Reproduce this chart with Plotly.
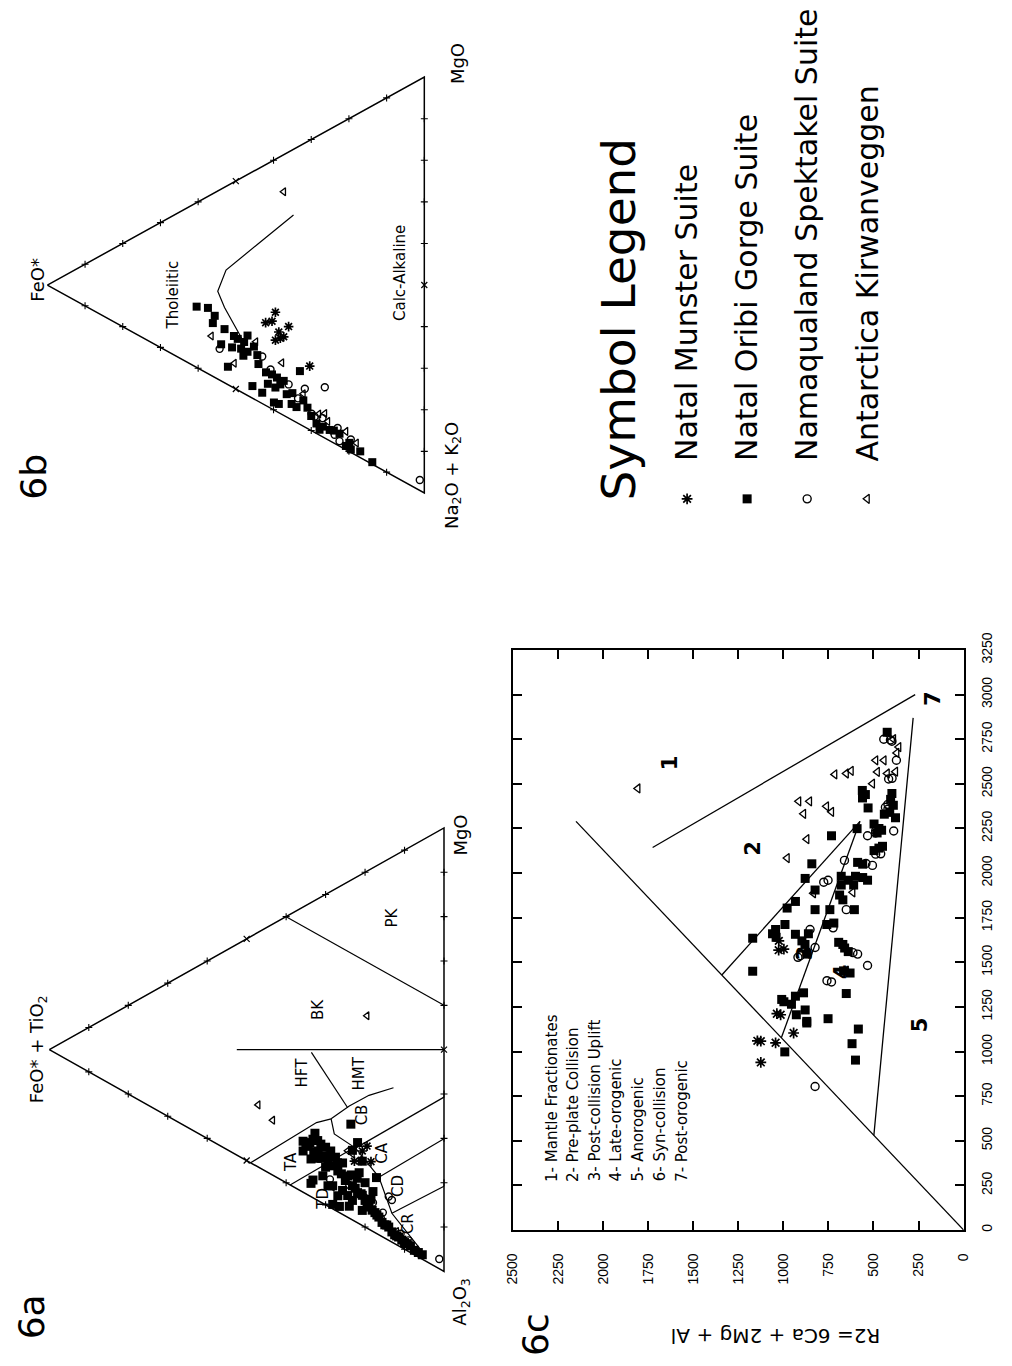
import plotly.graph_objects as go

W, H = 1012, 1366
FONT = "Liberation Sans"
TFONT = "DejaVu Sans"

# ================= 6a : (FeO*+TiO2) - Al2O3 - MgO =================
a_ast_fe = [20.7, 19.5, 22.7, 21.0, 18.5]
a_ast_al = [62.5, 62.0, 63.8, 64.5, 66.0]
a_ast_mg = [16.8, 18.5, 13.5, 14.5, 15.5]

a_sq_fe = [35.7, 34.4, 33.2, 31.9, 35.7, 30.7, 33.7, 31.2, 29.4, 32.7, 28.2, 26.9, 25.7, 24.4, 28.7,
           23.2, 21.9, 20.7, 19.5, 18.2, 17.0, 15.7, 14.5, 13.2, 12.0, 10.7, 9.5, 7.5,
           33.7, 33.2, 28.2, 26.5, 24.0, 30.7, 28.2, 25.7, 23.2, 24.4, 20.7, 29.4, 26.9,
           23.6, 21.9, 23.2, 17.1, 20.7,
           34.0, 32.0, 30.0, 29.0, 27.5, 31.0, 33.0, 35.0, 26.0, 27.0, 30.0, 32.0,
           22.5, 21.0, 20.0, 19.0, 18.5, 17.5, 16.5, 15.0, 14.0, 12.5, 11.5, 10.0, 8.5, 6.5, 5.5,
           22.0, 20.0, 18.0, 25.0, 23.5, 21.5]
a_sq_al = [52.8, 54.6, 53.6, 56.9, 55.0, 58.6, 57.8, 55.7, 60.4, 52.5, 62.1, 63.9, 62.7, 66.3, 58.5,
           69.1, 71.3, 72.5, 75.3, 77.1, 78.8, 81.1, 82.3, 84.5, 86.0, 87.6, 89.0, 91.5,
           63.3, 62.8, 70.8, 72.1, 73.3, 63.1, 66.6, 68.9, 72.4, 70.7, 75.9, 66.0, 69.5,
           55.0, 60.0, 61.1, 70.3, 64.8,
           54.0, 54.5, 57.0, 59.5, 60.5, 59.0, 56.5, 53.5, 65.0, 62.0, 61.5, 58.5,
           70.0, 72.0, 74.0, 76.0, 74.5, 78.0, 79.5, 82.0, 83.0, 85.5, 86.5, 88.5, 90.0, 92.5, 93.5,
           68.0, 70.0, 73.0, 67.0, 66.5, 67.0]
a_sq_mg = [11.5, 11.0, 13.2, 11.2, 9.3, 10.7, 8.5, 13.1, 10.2, 14.8, 9.7, 9.2, 11.6, 9.3, 12.8,
           7.7, 6.8, 6.8, 5.2, 4.7, 4.2, 3.2, 3.2, 2.3, 2.0, 1.7, 1.5, 1.0,
           3.0, 4.0, 1.0, 1.4, 2.7, 6.2, 5.2, 5.4, 4.4, 4.9, 3.4, 4.6, 3.6,
           21.4, 18.1, 15.7, 12.6, 14.5,
           12.0, 13.5, 13.0, 11.5, 12.0, 10.0, 10.5, 11.5, 9.0, 11.0, 8.5, 9.5,
           7.5, 7.0, 6.0, 5.0, 7.0, 4.5, 4.0, 3.0, 3.0, 2.0, 2.0, 1.5, 1.5, 1.0, 1.0,
           10.0, 10.0, 9.0, 8.0, 10.0, 11.5]

a_ci_fe = [14.0, 13.2, 1.2, 28.9, 16.0, 11.0, 18.0, 15.5, 9.0, 24.0]
a_ci_al = [76.1, 77.3, 96.6, 64.8, 80.0, 86.0, 75.5, 79.0, 88.5, 68.5]
a_ci_mg = [9.9, 9.5, 2.2, 6.3, 4.0, 3.0, 6.5, 5.5, 2.5, 7.5]

a_tr_fe = [47.1, 43.4, 19.5, 28.3, 24.4, 23.2, 20.0, 12.0, 26.5]
a_tr_al = [38.9, 44.2, 32.6, 66.8, 60.6, 61.9, 73.5, 85.0, 64.0]
a_tr_mg = [14.0, 12.4, 47.9, 4.9, 15.0, 14.9, 6.5, 3.0, 9.5]

# field boundaries of 6a (each: fe, al, mg)
a_fields = [
    ([40, 0], [0, 40], [60, 60]),                       # BK / PK
    ([52.5, 0], [23.75, 50], [23.75, 50]),              # HFT / BK
    ([33.6, 24.4], [33.8, 50.9], [32.6, 24.7]),         # HFT / HMT
    ([49, 32.3, 28.6], [51, 50.3, 51.3], [0, 17.4, 20.1]),            # TA top
    ([28.6, 24, 19, 12.8], [51.3, 50.7, 50.8, 52.2], [20.1, 25.3, 30.2, 35]),  # CB top
    ([28.6, 27.8, 22.4, 16.5, 13.2, 6], [51.3, 55.1, 61, 70.5, 80.3, 92],
     [20.1, 17.1, 16.6, 13, 6.5, 2]),                  # tholeiitic / calc-alkaline
    ([39, 22.7], [61, 60.7], [0, 16.6]),                # TA / TD
    ([22.4, 0], [61, 60.7], [16.6, 39.3]),              # CB / CA
    ([16.5, 0], [70.5, 70.1], [13, 29.9]),              # CA / CD
    ([13.2, 0], [80.3, 80.8], [6.5, 19.2]),             # CD / CR
]
a_field_names = ["TA", "TD", "HFT", "HMT", "BK", "PK", "CB", "CA", "CD", "CR"]
a_field_fe = [38.6, 30.7, 36.1, 21.5, 31.9, 13.2, 20.7, 15.7, 11.5, 9.1]
a_field_al = [56.1, 68.3, 37.2, 44.6, 25.1, 13.6, 54.4, 65.6, 75.1, 84.8]
a_field_mg = [5.3, 1.0, 26.7, 33.9, 43.0, 73.2, 24.9, 18.7, 13.4, 6.1]

# ================= 6b : FeO* - (Na2O+K2O) - MgO =================
b_sq_fe = [57.4, 55.6, 53.0, 49.5, 47.8, 48.6, 46.9, 52.1, 45.6, 43.0, 40.4, 39.1, 38.2, 39.5, 37.3,
           39.9, 38.6, 36.5, 35.2, 33.9, 32.1, 33.0, 28.6, 26.9, 25.1, 27.8, 20.8, 19.5, 19.9, 13.8,
           60.4, 56.1, 53.9, 46.9, 45.2, 44.3,
           50.5, 51.0, 48.0, 44.0, 42.0, 41.5, 35.0, 31.0, 30.0, 24.0, 22.5, 17.0]
b_sq_alk = [26.8, 29.6, 34.1, 38.2, 39.8, 41.0, 42.6, 43.6, 51.5, 54.4, 51.3, 52.7, 54.8, 54.9, 54.4,
            58.3, 59.3, 58.0, 61.0, 62.4, 61.7, 54.2, 69.0, 70.6, 72.3, 70.9, 78.3, 79.8, 78.0, 85.7,
            25.0, 31.1, 37.3, 38.7, 42.2, 44.7,
            37.0, 39.5, 43.0, 47.0, 50.0, 53.0, 58.5, 64.0, 66.5, 73.0, 74.5, 81.5]
b_sq_mg = [15.8, 14.8, 12.9, 12.3, 12.4, 10.4, 10.5, 4.3, 2.9, 2.6, 8.3, 8.2, 7.0, 5.6, 8.3,
           1.8, 2.1, 5.5, 3.8, 3.7, 6.2, 12.8, 2.4, 2.5, 2.6, 1.3, 0.9, 0.7, 2.1, 0.5,
           14.6, 12.8, 8.8, 14.4, 12.6, 11.0,
           12.5, 9.5, 9.0, 9.0, 8.0, 5.5, 6.5, 5.0, 3.5, 3.0, 3.0, 1.5]

b_ast_fe = [39.5, 42.1, 40.4, 36.0, 38.6, 37.3, 39.5, 38.2, 30.4]
b_ast_alk = [36.8, 38.0, 38.5, 42.0, 42.0, 43.8, 43.5, 43.7, 54.3]
b_ast_mg = [23.7, 19.9, 21.1, 22.0, 19.4, 18.9, 17.0, 18.1, 15.3]

b_ci_fe = [54.3, 43.0, 40.8, 31.7, 26.4, 36.0, 29.9, 23.0, 22.5, 19.5, 1.2, 29.1, 23.8, 33.5, 27.0]
b_ci_alk = [38.2, 45.7, 49.9, 59.1, 61.4, 55.9, 66.0, 72.9, 76.3, 77.4, 96.3, 67.1, 74.1, 60.5, 68.5]
b_ci_mg = [7.5, 11.3, 9.3, 9.2, 12.2, 8.1, 4.1, 4.1, 1.2, 3.1, 2.5, 3.8, 2.1, 6.0, 4.5]

b_tr_fe = [50.4, 44.7, 37.8, 26.4, 20.8, 32.1, 37.3, 56.5, 25.6, 28.0, 18.0]
b_tr_alk = [43.6, 41.3, 49.8, 67.7, 74.8, 60.1, 8.9, 34.0, 70.0, 67.0, 79.0]
b_tr_mg = [6.0, 14.0, 12.4, 5.9, 4.4, 7.8, 53.8, 9.5, 4.4, 5.0, 3.0]

b_curve_fe = [48.2, 53.0, 54.8, 52.6, 44.3, 34.7]
b_curve_alk = [39.1, 28.9, 24.1, 20.1, 18.1, 15.8]
b_curve_mg = [12.7, 18.1, 21.1, 27.3, 37.6, 49.5]

b_field_names = ["Tholeiitic", "Calc-Alkaline"]
b_field_fe = [66.8, 6.5]
b_field_alk = [19.0, 43.9]
b_field_mg = [14.2, 49.6]

# ================= 6c : R1 - R2 =================
c_sq_r1 = [2789, 2421, 2365, 2310, 2209, 2249, 2275, 2250, 2225, 2240, 2052, 1970, 1905, 1841,
           1804, 1635, 1450, 1684, 1660, 1640, 1795, 1795, 1657, 1620, 1660, 1600, 1546,
           1982, 1960, 1982, 1975, 1960, 1933, 1933, 2060, 2050, 2126, 2140, 2150, 1795,
           1877, 1850, 1712, 1720, 1612, 1580, 1560, 1600, 1452, 1440, 2463, 2440, 2446,
           2413, 2380, 2340, 2330, 1279, 1310, 1329, 1233, 1206, 1160, 1169, 1184, 1325,
           1126, 1044, 952, 998, 1292, 1265, 1712]
c_sq_r2 = [424, 561, 530, 378, 733, 591, 497, 470, 480, 455, 842, 879, 824, 933,
           979, 1170, 1170, 1043, 1060, 1040, 824, 742, 933, 897, 861, 880, 870,
           679, 640, 600, 560, 533, 679, 610, 588, 560, 497, 470, 450, 606,
           688, 670, 759, 720, 693, 660, 640, 670, 666, 630, 562, 545, 398,
           405, 390, 410, 440, 997, 933, 888, 879, 928, 870, 870, 752, 651,
           584, 619, 600, 992, 1009, 955, 991]

c_ci_r1 = [2746, 2632, 2531, 2385, 2358, 2236, 2225, 2209, 2108, 2043, 2071, 1960, 1795, 1684,
           1583, 1537, 1546, 1482, 1693, 804, 1390, 1554, 1397, 1528, 1949, 2054, 2106,
           2237, 2369, 2527, 2750, 2739]
c_ci_r2 = [406, 373, 397, 420, 420, 388, 488, 533, 460, 506, 661, 752, 651, 852,
           824, 906, 588, 533, 724, 824, 733, 614, 758, 919, 776, 542, 488,
           488, 434, 416, 443, 398]

c_tr_r1 = [2706, 2632, 2558, 2568, 2553, 2558, 2573, 2402, 2402, 2332, 2374, 2343, 2190, 2084,
           1887, 1892, 2474, 1454, 2632, 2567, 2501, 2750, 2673]
c_tr_r2 = [360, 442, 424, 378, 715, 651, 624, 915, 855, 888, 761, 733, 870, 979,
           833, 615, 1807, 651, 488, 479, 506, 389, 371]

c_ast_r1 = [1058, 1049, 939, 1206, 1104, 1568, 1574, 1212, 1620, 1060]
c_ast_r2 = [1125, 1043, 1125, 1015, 943, 1026, 997, 1036, 1025, 1144]

# field boundaries (R1 list, R2 list)
c_fields = [
    ([0, 2290], [0, 2150]),
    ([2143, 3000], [1725, 269]),
    ([1430, 2290], [1340, 575]),
    ([1077, 2290], [1011, 575]),
    ([530, 2870], [498, 280]),
]
c_field_names = ["1", "2", "3", "4", "5", "7"]
c_field_r1 = [2617, 2137, 1552, 1447, 1149, 2976]
c_field_r2 = [1627, 1168, 879, 677, 240, 169]

c_key = ["1- Mantle Fractionates", "2- Pre-plate Collision", "3- Post-collision Uplift",
         "4- Late-orogenic", "5- Anorogenic", "6- Syn-collision", "7- Post-orogenic"]

r2_ticks = list(range(0, 2501, 250))
r1_ticks = list(range(0, 3251, 250))

legend_names = ["Natal Munster Suite", "Natal Oribi Gorge Suite",
                "Namaqualand Spektakel Suite", "Antarctica Kirwanveggen"]
legend_rows = [0, 1, 2, 3]

tern_ticks = [10, 20, 30, 40, 50, 60, 70, 80, 90]

# ---------------- helpers ----------------
def tern_uv(fe, b, mg):
    u, v = [], []
    for f, bb, m in zip(fe, b, mg):
        s = f + bb + m
        u.append(1 - f / s)
        v.append((m + f / 2) / s)
    return u, v

def pxx(x):
    return x / W

def pxy(y):
    return 1 - y / H

def msty(key, size):
    base = {
        "ast": dict(symbol="asterisk-open", line=dict(width=1.7, color="black")),
        "sq": dict(symbol="square", line=dict(width=0)),
        "ci": dict(symbol="circle-open", line=dict(width=1.4, color="black")),
        "tr": dict(symbol="triangle-left-open", line=dict(width=1.3, color="black")),
    }[key]
    d = dict(base)
    d["size"] = size - (1 if key in ("ci", "tr") else 0)
    d["color"] = "black"
    return d

fig = go.Figure()

def add_ternary(xa, ya):
    u, v = tern_uv([100, 0, 0, 100], [0, 100, 0, 0], [0, 0, 100, 0])
    fig.add_trace(go.Scatter(x=u, y=v, mode="lines", line=dict(color="black", width=1.5),
                             xaxis=xa, yaxis=ya, hoverinfo="skip"))
    fe, b, mg = [], [], []
    fe5, b5, mg5 = [], [], []
    for t in tern_ticks:
        for s in [(t, 0, 100 - t), (0, t, 100 - t), (t, 100 - t, 0)]:
            if t == 50:
                fe5.append(s[0]); b5.append(s[1]); mg5.append(s[2])
            else:
                fe.append(s[0]); b.append(s[1]); mg.append(s[2])
    u, v = tern_uv(fe, b, mg)
    fig.add_trace(go.Scatter(x=u, y=v, mode="markers",
                             marker=dict(symbol="cross-thin", size=5, line=dict(width=1.1, color="black")),
                             xaxis=xa, yaxis=ya, hoverinfo="skip", cliponaxis=False))
    u, v = tern_uv(fe5, b5, mg5)
    fig.add_trace(go.Scatter(x=u, y=v, mode="markers",
                             marker=dict(symbol="x-thin", size=6, line=dict(width=1.2, color="black")),
                             xaxis=xa, yaxis=ya, hoverinfo="skip", cliponaxis=False))

def add_pts(xa, ya, x, y, key, size):
    fig.add_trace(go.Scatter(x=x, y=y, mode="markers", marker=msty(key, size),
                             xaxis=xa, yaxis=ya, cliponaxis=False))

# ---- 6a
add_ternary("x", "y")
for fe, al, mg in a_fields:
    u, v = tern_uv(fe, al, mg)
    fig.add_trace(go.Scatter(x=u, y=v, mode="lines", line=dict(color="black", width=1.2),
                             xaxis="x", yaxis="y", hoverinfo="skip"))
for (fe, al, mg, k, s) in [(a_sq_fe, a_sq_al, a_sq_mg, "sq", 9), (a_ci_fe, a_ci_al, a_ci_mg, "ci", 8),
                           (a_tr_fe, a_tr_al, a_tr_mg, "tr", 8), (a_ast_fe, a_ast_al, a_ast_mg, "ast", 8)]:
    u, v = tern_uv(fe, al, mg)
    add_pts("x", "y", u, v, k, s)

# ---- 6b
add_ternary("x2", "y2")
u, v = tern_uv(b_curve_fe, b_curve_alk, b_curve_mg)
fig.add_trace(go.Scatter(x=u, y=v, mode="lines", line=dict(color="black", width=1.2),
                         xaxis="x2", yaxis="y2", hoverinfo="skip"))
for (fe, al, mg, k) in [(b_sq_fe, b_sq_alk, b_sq_mg, "sq"), (b_ci_fe, b_ci_alk, b_ci_mg, "ci"),
                        (b_tr_fe, b_tr_alk, b_tr_mg, "tr"), (b_ast_fe, b_ast_alk, b_ast_mg, "ast")]:
    u, v = tern_uv(fe, al, mg)
    add_pts("x2", "y2", u, v, k, 8)

# ---- 6c
for r1, r2 in c_fields:
    fig.add_trace(go.Scatter(x=r2, y=r1, mode="lines", line=dict(color="black", width=1.3),
                             xaxis="x3", yaxis="y3", hoverinfo="skip"))
for r1, r2, k in [(c_sq_r1, c_sq_r2, "sq"), (c_ci_r1, c_ci_r2, "ci"), (c_tr_r1, c_tr_r2, "tr"),
                  (c_ast_r1, c_ast_r2, "ast")]:
    add_pts("x3", "y3", r2, r1, k, 9)

# ---- legend symbols
for row, k in zip(legend_rows, ["ast", "sq", "ci", "tr"]):
    add_pts("x4", "y4", [row], [0], k, 9)

# ---------------- axes ----------------
hidden = dict(visible=False, showgrid=False, zeroline=False, fixedrange=True)

def dom_x(p0, p1, lo, hi):
    k = (p1 - p0)
    return [pxx(p0 + lo * k), pxx(p0 + hi * k)]

def dom_y(p0, p1, lo, hi):
    k = (p1 - p0)
    return [pxy(p0 + lo * k), pxy(p0 + hi * k)]

layout = dict(
    width=W, height=H, margin=dict(l=0, r=0, t=0, b=0),
    paper_bgcolor="white", plot_bgcolor="rgba(0,0,0,0)", showlegend=False,
    font=dict(family=FONT, color="black"),
    xaxis=dict(hidden, domain=dom_x(42, 443, -0.1, 1.1), range=[-0.1, 1.1]),
    yaxis=dict(hidden, domain=dom_y(1272, 822, -0.06, 1.06), range=[-0.06, 1.06]),
    xaxis2=dict(hidden, domain=dom_x(40, 423, -0.1, 1.1), range=[-0.1, 1.1]),
    yaxis2=dict(hidden, domain=dom_y(482, 60, -0.06, 1.06), range=[-0.06, 1.06]),
    xaxis3=dict(domain=[pxx(513), pxx(971)], range=[2500, 0], tickvals=r2_ticks,
                showline=True, linecolor="black", linewidth=1.5, mirror="allticks",
                ticks="inside", ticklen=9, tickwidth=1.5, tickcolor="black",
                tickangle=-90, tickfont=dict(size=14, family=FONT), ticklabelstandoff=16,
                showgrid=False, zeroline=False, anchor="y3"),
    yaxis3=dict(domain=[pxy(1230), pxy(641.4)], range=[0, 3250], tickvals=r1_ticks,
                showline=True, linecolor="black", linewidth=1.5, mirror="allticks",
                ticks="inside", ticklen=9, tickwidth=1.5, tickcolor="black", side="right",
                tickangle=-90, tickfont=dict(size=14, family=FONT), ticklabelstandoff=10,
                showgrid=False, zeroline=False, anchor="x3"),
    xaxis4=dict(hidden, domain=[pxx(659.5), pxx(903.5)], range=[-0.5, 3.5]),
    yaxis4=dict(hidden, domain=[pxy(508), pxy(468)], range=[-1, 1]),
)
fig.update_layout(**layout)

anns = []

def ann(text, x, y, size, angle=-90, xa="center", ya="middle", xref="paper", yref="paper",
        bold=False, family=TFONT):
    anns.append(dict(text=("<b>%s</b>" % text) if bold else text, x=x, y=y, xref=xref, yref=yref,
                     showarrow=False, textangle=angle, xanchor=xa, yanchor=ya,
                     font=dict(size=size, family=family, color="black")))

# panel labels
ann("6a", pxx(24), pxy(1318), 36)
ann("6b", pxx(26), pxy(466), 36)
ann("6c", pxx(536), pxy(1336), 36)

# 6a vertex labels
ann("FeO* + TiO<sub>2</sub>", pxx(30), pxy(1047), 18)
ann("Al<sub>2</sub>O<sub>3</sub>", pxx(460), pxy(1303), 18)
ann("MgO", pxx(460), pxy(829), 18)
# 6b vertex labels
ann("FeO*", pxx(30), pxy(266), 18)
ann("MgO", pxx(457), pxy(46), 18)
ann("Na<sub>2</sub>O + K<sub>2</sub>O", pxx(452), pxy(464), 18)

# 6a field names
u, v = tern_uv(a_field_fe, a_field_al, a_field_mg)
for name, uu, vv in zip(a_field_names, u, v):
    ann(name, uu, vv, 15, xref="x", yref="y")
# 6b field names
u, v = tern_uv(b_field_fe, b_field_alk, b_field_mg)
for name, uu, vv in zip(b_field_names, u, v):
    ann(name, uu, vv, 15, xref="x2", yref="y2")

# 6c field numbers
for name, r1, r2 in zip(c_field_names, c_field_r1, c_field_r2):
    ann(name, r2, r1, 21, xref="x3", yref="y3", bold=True)

# 6c key
for i, t in enumerate(c_key):
    ann(t, pxx(552 + 22 * i), pxy(1183), 15, ya="bottom")

# R2 axis title (upside down)
ann("R2= 6Ca + 2Mg + Al", pxx(780), pxy(1337), 20, angle=180)

# symbol legend
ann("Symbol Legend", pxx(620), pxy(492), 47, ya="bottom")
for row, name in zip(legend_rows, legend_names):
    ann(name, row, pxy(452), 30, xref="x4", yref="paper", ya="bottom")

fig.update_layout(annotations=anns)
fig.write_html("out.html")
